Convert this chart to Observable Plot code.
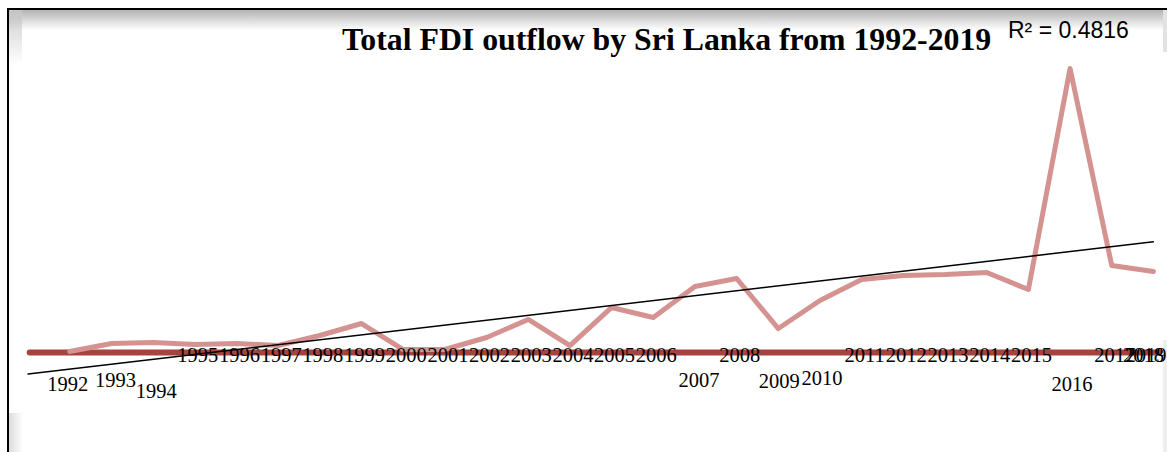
<!DOCTYPE html>
<html>
<head>
<meta charset="utf-8">
<script src="https://cdn.jsdelivr.net/npm/d3@7"></script>
<script src="https://cdn.jsdelivr.net/npm/@observablehq/plot@0.6"></script>
<style>
  html, body { margin: 0; padding: 0; background: #fff; }
  #page { position: relative; width: 1167px; height: 452px; overflow: hidden; background: #fff; }
  .abs { position: absolute; }
  #title { left: 342px; top: 24px; font-family: "Liberation Serif", "Times New Roman", serif; font-weight: bold; font-size: 31.8px; line-height: 32px; white-space: nowrap; color: #000; }
  #r2 { left: 1008px; top: 19px; font-family: "Liberation Sans", Arial, sans-serif; font-size: 23px; line-height: 23px; white-space: nowrap; color: #000; }
  #chart { left: 0; top: 0; }
</style>
</head>
<body>
<div id="page">
  <div class="abs" style="left:9px;top:10px;right:0;height:20px;background:linear-gradient(to bottom,#b3b3b3,#ffffff);"></div>
  <div class="abs" style="left:9px;top:10px;width:13px;height:55px;background:linear-gradient(to bottom,rgba(200,200,200,0.9),rgba(255,255,255,0));"></div>
  <div class="abs" style="left:9px;top:413px;width:14px;bottom:0;background:linear-gradient(to right,#dcdcdc,#ffffff);"></div>
  <div class="abs" style="left:1163px;top:10px;width:4px;height:42px;background:#e2e2e2;"></div>
  <div class="abs" style="left:1163px;top:340px;width:4px;bottom:0;background:#eeeeee;"></div>
  <div class="abs" style="left:7px;top:8px;right:0;height:2px;background:#000;"></div>
  <div class="abs" style="left:7px;top:8px;width:2px;bottom:0;background:#000;"></div>
  <div id="chart" class="abs"></div>
  <div id="title" class="abs">Total FDI outflow by Sri Lanka from 1992-2019</div>
  <div id="r2" class="abs">R² = 0.4816</div>
</div>
<script>
// ---- data (FDI outflow, US$ million) ----
const years = [1992,1993,1994,1995,1996,1997,1998,1999,2000,2001,2002,2003,2004,2005,2006,2007,2008,2009,2010,2011,2012,2013,2014,2015,2016,2017,2018];
const fdiOutflow = [0.8,7.5,8.4,6.7,7.5,5.8,14.2,24.2,2.5,2.5,12.5,27.6,5.8,37.6,29.2,55.1,61.8,20.0,43.4,61.0,64.3,65.1,66.8,52.6,237.1,72.6,67.6];
const categoryLabels = [1992,1993,1994,1995,1996,1997,1998,1999,2000,2001,2002,2003,2004,2005,2006,2007,2008,2009,2010,2011,2012,2013,2014,2015,2016,2017,2018,2019];
const r2Text = "R² = 0.4816";

// ---- layout (label nudges, not data) ----
const labelNudge = {
  1992: [-2, 31.5], 1993: [4, 28], 1994: [3, 38.5], 2007: [4, 27.5],
  2009: [1, 29], 2010: [2, 26], 2016: [2, 31.5], 2018: [-10, 2.5], 2019: [-49, 2.5]
};
const defaultNudge = [3, 2.5];

const series = years.map((y, i) => ({year: y, value: fdiOutflow[i]}));

// linear trend (least squares)
const mx = d3.mean(series, d => d.year);
const my = d3.mean(series, d => d.value);
const sxy = d3.sum(series, d => (d.year - mx) * (d.value - my));
const sxx = d3.sum(series, d => (d.year - mx) ** 2);
const slope = sxy / sxx;
const intercept = my - slope * mx;
const trend = [years[0] - 1, years[years.length - 1]].map(x => ({year: x, value: intercept + slope * x}));

const darkRed = "#a8423f";
const pink = "#d49290";

const labelMarks = categoryLabels.map(yr => {
  const [dx, dy] = labelNudge[yr] || defaultNudge;
  return Plot.text([{year: yr, value: 0}], {
    x: "year", y: "value", text: d => String(d.year), dx, dy,
    fontFamily: "Liberation Serif, Times New Roman, serif", fontSize: 20.5, fill: "#000",
    textAnchor: "middle", lineAnchor: "middle"
  });
});

const chart = Plot.plot({
  width: 1167,
  height: 452,
  x: {domain: [1991, 2019], range: [27.6, 1194.6], axis: null},
  y: {domain: [0, 237.1], range: [352, 68], axis: null},
  style: {background: "transparent", overflow: "visible"},
  marks: [
    Plot.ruleY([0], {x1: 1991.05, x2: 2018.15, stroke: darkRed, strokeWidth: 6, strokeLinecap: "round"}),
    Plot.line(series, {x: "year", y: "value", stroke: pink, strokeWidth: 5, strokeLinejoin: "round", strokeLinecap: "round"}),
    Plot.line(trend, {x: "year", y: "value", stroke: "#000", strokeWidth: 1.5}),
    ...labelMarks
  ]
});
document.getElementById("chart").appendChild(chart);
</script>
</body>
</html>
